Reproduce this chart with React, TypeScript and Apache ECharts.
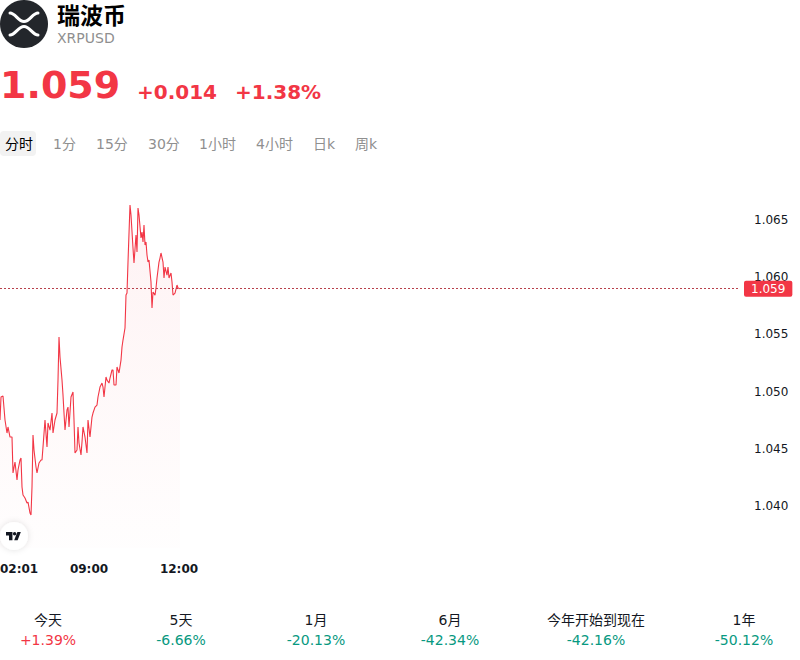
import React, { useEffect, useRef } from "react";
import * as echarts from "echarts";

// ---- data ----
const assetName = "瑞波币";
const assetSymbol = "XRPUSD";
const lastPrice = 1.059;
const priceChange = 0.014;
const priceChangePct = 1.38;

const tabs = ["分时", "1分", "15分", "30分", "1小时", "4小时", "日k", "周k"];

const periods = ["今天", "5天", "1月", "6月", "今年开始到现在", "1年"];
const periodChanges = [1.39, -6.66, -20.13, -42.34, -42.16, -50.12];

const xTickMinutes = [0, 178, 358];
const xTickLabels = ["02:01", "09:00", "12:00"];
const yTicks = [1.04, 1.045, 1.05, 1.055, 1.06, 1.065];

// minutes since start of window
const minutes = [
  0, 2, 6, 10, 14, 16, 20, 24, 26, 30,
  34, 36, 40, 42, 44, 46, 50, 54, 56, 60,
  62, 64, 66, 68, 72, 74, 78, 82, 84, 86,
  90, 94, 96, 100, 104, 106, 110, 114, 116, 118,
  120, 124, 126, 128, 130, 134, 136, 138, 142, 146,
  148, 150, 154, 156, 158, 162, 164, 166, 170, 174,
  176, 180, 184, 186, 190, 194, 196, 200, 204, 206,
  208, 212, 214, 218, 220, 224, 226, 228, 232, 234,
  238, 242, 244, 246, 250, 252, 254, 256, 260, 262,
  266, 268, 272, 274, 276, 278, 282, 284, 286, 288,
  290, 292, 294, 296, 298, 302, 304, 306, 310, 312,
  314, 318, 320, 322, 326, 328, 330, 334, 336, 338,
  342, 344, 346, 350, 354, 356, 360,
];

const prices = [
  1.04752, 1.04953, 1.04962, 1.04752, 1.04638, 1.04691, 1.04603, 1.04603, 1.04289, 1.04385,
  1.04227, 1.04315, 1.04402, 1.0442, 1.04166, 1.04096, 1.0407, 1.04026, 1.04035, 1.03939,
  1.03921, 1.04166, 1.04621, 1.0449, 1.04341, 1.04289, 1.04376, 1.04402, 1.04402, 1.04516,
  1.04752, 1.04516, 1.04726, 1.04664, 1.04813, 1.04638, 1.04752, 1.04813, 1.05101, 1.05477,
  1.05303, 1.05101, 1.0497, 1.04813, 1.04664, 1.04839, 1.04865, 1.04691, 1.04953, 1.04997,
  1.04752, 1.04463, 1.0449, 1.04691, 1.04551, 1.04446, 1.0456, 1.04691, 1.04603, 1.04463,
  1.04752, 1.04603, 1.04778, 1.04813, 1.04865, 1.04883, 1.04953, 1.0504, 1.05075, 1.0504,
  1.04953, 1.05128, 1.05101, 1.05075, 1.05119, 1.05189, 1.05189, 1.05058, 1.05058, 1.05215,
  1.05163, 1.05276, 1.0539, 1.05451, 1.05556, 1.05844, 1.05862, 1.06133, 1.06631, 1.06544,
  1.06255, 1.06124, 1.06369, 1.0622, 1.06605, 1.06544, 1.06343, 1.06395, 1.06308, 1.06456,
  1.06281, 1.06308, 1.06194, 1.06133, 1.0615, 1.05958, 1.05731, 1.05871, 1.05844, 1.05906,
  1.05993, 1.06133, 1.06168, 1.06212, 1.06133, 1.05993, 1.06089, 1.06019, 1.06089, 1.05993,
  1.06037, 1.05958, 1.05844, 1.05862, 1.05932, 1.05906, 1.059,
];

// ---- styling constants ----
const RED = "#f23645";
const GREEN = "#089981";
const INK = "#131722";
const GRAY = "#8f8f8f";
const FONT = "'DejaVu Sans', 'Noto Sans CJK SC', sans-serif";

const tabX = [5, 53, 96, 148, 199, 256, 313, 355];
const statX = [48, 181, 316, 450, 596, 744];

echarts.graphic.registerShape(
  "xrpMark",
  echarts.graphic.extendPath(
    "M10 13 C15.5 13 18 21.5 24 21.5 C30 21.5 32.5 13 38 13 M10 35 C15.5 35 18 26.5 24 26.5 C30 26.5 32.5 35 38 35",
    {}
  )
);
echarts.graphic.registerShape(
  "tvLogo",
  echarts.graphic.extendPath(
    "M15 19H7V8H0V0h15v19Z M27 19h-8l7.5-19h8L27 19Z M16 4a4 4 0 1 0 8 0a4 4 0 1 0 -8 0Z",
    {}
  )
);

const signed = (v: number, d: number) => (v >= 0 ? "+" : "") + v.toFixed(d);

export default function App() {
  const ref = useRef<HTMLDivElement>(null);

  useEffect(() => {
    if (!ref.current) return;
    const chart = echarts.init(ref.current, null, { renderer: "svg" });

    const graphics: any[] = [
      { type: "circle", shape: { cx: 24, cy: 24, r: 24 }, style: { fill: "#23262b" } },
      {
        type: "xrpMark",
        x: 0,
        y: 0,
        style: { stroke: "#ffffff", lineWidth: 3, fill: "none", lineCap: "round" },
      },
      {
        type: "text",
        x: 57,
        y: 16,
        style: { text: assetName, fontSize: 23, fontWeight: "bold", fill: "#000", fontFamily: FONT, verticalAlign: "middle" },
      },
      {
        type: "text",
        x: 57,
        y: 38,
        style: { text: assetSymbol, fontSize: 14, fill: GRAY, fontFamily: FONT, verticalAlign: "middle" },
      },
      {
        type: "text",
        x: 0,
        y: 85,
        style: { text: lastPrice.toFixed(3), fontSize: 38, fontWeight: "bold", fill: RED, fontFamily: FONT, verticalAlign: "middle" },
      },
      {
        type: "text",
        x: 137,
        y: 92,
        style: { text: signed(priceChange, 3), fontSize: 20, fontWeight: "bold", fill: RED, fontFamily: FONT, verticalAlign: "middle" },
      },
      {
        type: "text",
        x: 235,
        y: 92,
        style: { text: signed(priceChangePct, 2) + "%", fontSize: 20, fontWeight: "bold", fill: RED, fontFamily: FONT, verticalAlign: "middle" },
      },
      { type: "rect", shape: { x: 0, y: 131, width: 36, height: 25, r: 4 }, style: { fill: "#f2f2f2" } },
      // TV logo
      {
        type: "circle",
        z: 20,
        shape: { cx: 14, cy: 536, r: 14 },
        style: { fill: "#ffffff", shadowBlur: 6, shadowColor: "rgba(0,0,0,0.12)" },
      },
      {
        type: "tvLogo",
        z: 21,
        x: 6,
        y: 532,
        scaleX: 0.43,
        scaleY: 0.43,
        style: { fill: INK },
      },
    ];

    tabs.forEach((t, i) => {
      graphics.push({
        type: "text",
        x: tabX[i],
        y: 144,
        style: { text: t, fontSize: 14, fill: i === 0 ? "#000" : GRAY, fontFamily: FONT, verticalAlign: "middle" },
      });
    });

    periods.forEach((p, i) => {
      graphics.push({
        type: "text",
        x: statX[i],
        y: 620,
        style: { text: p, fontSize: 14, fill: INK, fontFamily: FONT, align: "center", verticalAlign: "middle" },
      });
      const v = periodChanges[i];
      graphics.push({
        type: "text",
        x: statX[i],
        y: 640,
        style: {
          text: signed(v, 2) + "%",
          fontSize: 14,
          fill: v >= 0 ? RED : GREEN,
          fontFamily: FONT,
          align: "center",
          verticalAlign: "middle",
        },
      });
    });

    const option: any = {
      animation: false,
      textStyle: { fontFamily: FONT },
      grid: { left: 0, right: 60, top: 180, bottom: 112, outerBoundsMode: "none", containLabel: false },
      xAxis: {
        type: "value",
        min: 0,
        max: 1480,
        axisLine: { show: false },
        axisTick: { show: false },
        splitLine: { show: false },
        axisLabel: {
          customValues: xTickMinutes,
          formatter: (v: number) => {
            const i = xTickMinutes.indexOf(v);
            return i >= 0 ? xTickLabels[i] : "";
          },
          fontWeight: "bold",
          fontSize: 12,
          color: INK,
          margin: 15,
          alignMinLabel: "left",
        },
      },
      yAxis: {
        type: "value",
        position: "right",
        min: 1.03633,
        max: 1.0685,
        axisLine: { show: false },
        axisTick: { show: false },
        splitLine: { show: false },
        axisLabel: {
          customValues: yTicks,
          formatter: (v: number) => v.toFixed(3),
          fontSize: 12,
          color: INK,
          margin: 14,
        },
      },
      series: [
        {
          type: "line",
          data: minutes.map((m, i) => [m, prices[i]]),
          showSymbol: false,
          lineStyle: { color: RED, width: 1.1 },
          itemStyle: { color: RED },
          areaStyle: {
            color: new echarts.graphic.LinearGradient(0, 0, 0, 1, [
              { offset: 0, color: "rgba(242,54,69,0.09)" },
              { offset: 1, color: "rgba(242,54,69,0.01)" },
            ]),
          },
          markLine: {
            silent: true,
            precision: 3,
            symbol: ["none", "none"],
            data: [{ yAxis: lastPrice }],
            lineStyle: { type: [2, 2], color: "#b8414c", width: 1 },
            label: {
              show: true,
              position: "end",
              distance: 4,
              formatter: () => lastPrice.toFixed(3),
              backgroundColor: RED,
              color: "#fff",
              fontSize: 12,
              padding: [2, 7, 2, 7],
              borderRadius: 2,
            },
          },
        },
      ],
      graphic: graphics,
    };

    chart.setOption(option);
    return () => chart.dispose();
  }, []);

  return (
    <div
      ref={ref}
      style={{ position: "absolute", left: 0, top: 0, width: 800, height: 660, background: "#fff" }}
    />
  );
}
